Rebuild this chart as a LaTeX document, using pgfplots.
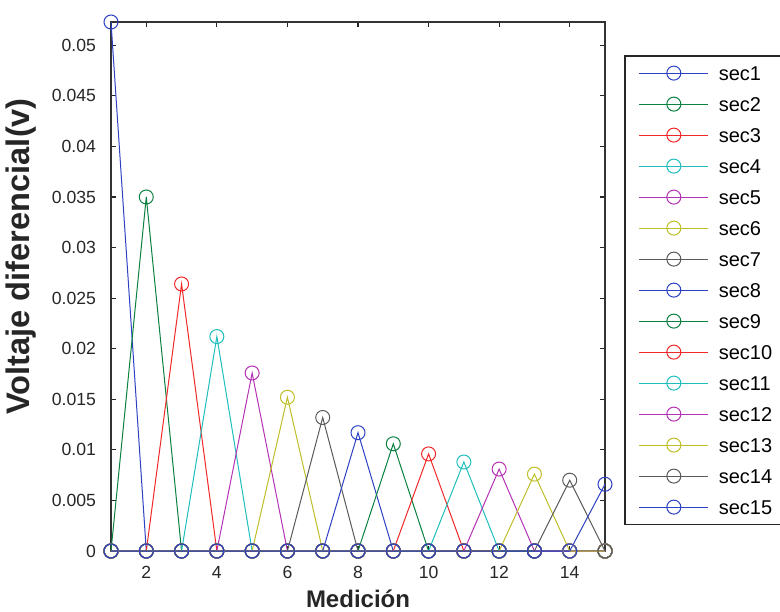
\documentclass[border=0pt]{standalone}
\usepackage{pgfplots}
\pgfplotsset{compat=1.18}
\usepackage{pgfplotstable}
\usepackage{fontspec}
\setmainfont{Liberation Sans}

% MATLAB-style line colours
\definecolor{mblue}{RGB}{45,65,195}
\definecolor{mgreen}{RGB}{10,128,65}
\definecolor{mred}{RGB}{240,40,40}
\definecolor{mcyan}{RGB}{30,190,190}
\definecolor{mmag}{RGB}{180,50,180}
\definecolor{myel}{RGB}{190,190,40}
\definecolor{mgray}{RGB}{90,90,90}

% Differential voltage per measurement, one column per section
\pgfplotstableread{
x  s1     s2     s3     s4     s5     s6     s7     s8     s9     s10    s11    s12    s13    s14    s15
1  0.0523 0      0      0      0      0      0      0      0      0      0      0      0      0      0
2  0      0.0350 0      0      0      0      0      0      0      0      0      0      0      0      0
3  0      0      0.0264 0      0      0      0      0      0      0      0      0      0      0      0
4  0      0      0      0.0212 0      0      0      0      0      0      0      0      0      0      0
5  0      0      0      0      0.0176 0      0      0      0      0      0      0      0      0      0
6  0      0      0      0      0      0.0152 0      0      0      0      0      0      0      0      0
7  0      0      0      0      0      0      0.0132 0      0      0      0      0      0      0      0
8  0      0      0      0      0      0      0      0.0117 0      0      0      0      0      0      0
9  0      0      0      0      0      0      0      0      0.0106 0      0      0      0      0      0
10 0      0      0      0      0      0      0      0      0      0.0096 0      0      0      0      0
11 0      0      0      0      0      0      0      0      0      0      0.0088 0      0      0      0
12 0      0      0      0      0      0      0      0      0      0      0      0.0081 0      0      0
13 0      0      0      0      0      0      0      0      0      0      0      0      0.0076 0      0
14 0      0      0      0      0      0      0      0      0      0      0      0      0      0.0070 0
15 0      0      0      0      0      0      0      0      0      0      0      0      0      0      0.0066
}\datos

\begin{document}
\begin{tikzpicture}
\useasboundingbox (-55.5pt,-30pt) rectangle (334.5pt,275.5pt);
\begin{axis}[
  scale only axis,
  width=247pt, height=264.5pt,
  xmin=1, xmax=15, ymin=0, ymax=0.0523,
  xtick={2,4,6,8,10,12,14},
  ytick={0,0.005,0.01,0.015,0.02,0.025,0.03,0.035,0.04,0.045,0.05},
  scaled y ticks=false,
  yticklabel style={/pgf/number format/fixed, /pgf/number format/precision=3, xshift=-4pt},
  xticklabel style={yshift=-4pt},
  /pgf/number format/assume math mode=true,
  ticklabel style={font=\fontsize{8.8}{10}\selectfont, text=black!85},
  tick align=inside,
  major tick length=2.5pt,
  tick style={black!85, line width=0.6pt},
  axis line style={draw=black!80, line width=0.8pt},
  clip=false,
  xlabel={Medición},
  ylabel={Voltaje diferencial(v)},
  xlabel style={font=\bfseries\fontsize{12}{14}\selectfont, text=black!85,
    at={(axis description cs:0.5,-0.0907)}, anchor=center},
  ylabel style={font=\bfseries\fontsize{16.3}{18}\selectfont, text=black!85,
    at={(axis description cs:-0.182,0.557)}, anchor=center, rotate=0},
  cycle list={
    {mblue, mark=o}, {mgreen, mark=o}, {mred, mark=o}, {mcyan, mark=o},
    {mmag, mark=o}, {myel, mark=o}, {mgray, mark=o}},
  every axis plot/.append style={line width=0.5pt, mark size=3.5pt, mark options={solid}},
  legend image code/.code={
    \path (0pt,0pt);
    \draw[mark repeat=2, mark phase=2, #1] plot coordinates {(5pt,0pt) (22.25pt,0pt) (39.5pt,0pt)};
  },
  legend cell align=left,
  legend style={
    at={(1.0385,0.9376)}, anchor=north west,
    draw=black!85, line width=0.8pt,
    font=\fontsize{10}{12}\selectfont,
    inner xsep=2pt, inner ysep=5pt,
    row sep=8.2pt, column sep=5pt,
    nodes={inner sep=0pt, text height=7.3pt, text depth=0pt, text width=29pt},
  },
]
\pgfplotsinvokeforeach{1,...,15}{
  \addplot table[x=x, y=s#1] {\datos};
  \addlegendentry{sec#1}
}
\end{axis}
\end{tikzpicture}
\end{document}
